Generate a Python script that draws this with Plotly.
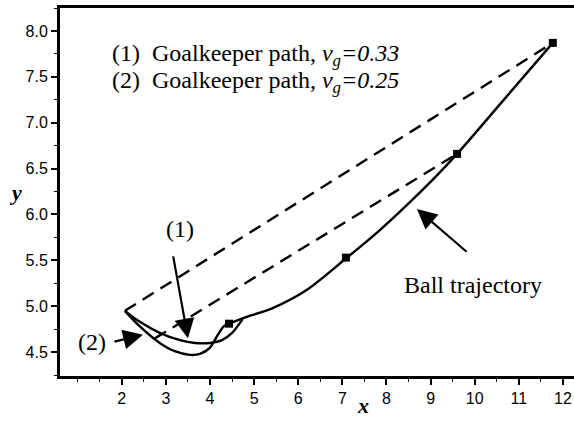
import plotly.graph_objects as go

# Goalkeeper path (1), v_g = 0.33
path1_x = [2.07, 2.41, 2.86, 3.32, 3.66, 4.00, 4.27, 4.50, 4.74]
path1_y = [4.95, 4.83, 4.71, 4.63, 4.60, 4.60, 4.63, 4.71, 4.86]
# Goalkeeper path (2), v_g = 0.25
path2_x = [2.07, 2.41, 2.86, 3.20, 3.54, 3.77, 4.00, 4.18, 4.31, 4.43]
path2_y = [4.95, 4.78, 4.60, 4.51, 4.47, 4.48, 4.55, 4.69, 4.78, 4.81]
# Ball trajectory
ball_x = [4.43, 4.75, 5.42, 6.20, 7.08, 7.85, 9.05, 9.60, 10.57, 11.77]
ball_y = [4.81, 4.87, 4.98, 5.18, 5.52, 5.83, 6.38, 6.66, 7.20, 7.87]
# Ball positions (markers)
mark_x = [4.43, 7.08, 9.60, 11.77]
mark_y = [4.81, 5.53, 6.66, 7.87]
# Dashed sight lines
dash1_x = [2.07, 11.77]
dash1_y = [4.95, 7.87]
dash2_x = [2.75, 9.60]
dash2_y = [4.65, 6.66]

x_ticks = [2, 3, 4, 5, 6, 7, 8, 9, 10, 11, 12]
y_ticks = [4.5, 5.0, 5.5, 6.0, 6.5, 7.0, 7.5, 8.0]

SERIF = "Liberation Serif, Times New Roman, serif"
SANS = "Liberation Sans, Arial, sans-serif"

fig = go.Figure()
solid = dict(color="black", width=2.4, shape="spline", smoothing=0.8)
dashed = dict(color="black", width=2.4, dash="13px,8px")
fig.add_trace(go.Scatter(x=dash1_x, y=dash1_y, mode="lines", line=dashed))
fig.add_trace(go.Scatter(x=dash2_x, y=dash2_y, mode="lines", line=dashed))
fig.add_trace(go.Scatter(x=path1_x, y=path1_y, mode="lines", line=solid))
fig.add_trace(go.Scatter(x=path2_x, y=path2_y, mode="lines", line=solid))
fig.add_trace(go.Scatter(x=ball_x, y=ball_y, mode="lines", line=solid))
fig.add_trace(go.Scatter(x=mark_x, y=mark_y, mode="markers",
                         marker=dict(symbol="square", size=8, color="black")))

ann_font = dict(family=SERIF, size=24, color="black")
arrow = dict(showarrow=True, arrowhead=2, arrowsize=1.8, arrowwidth=2.2,
             arrowcolor="black", axref="x", ayref="y", text="")
annotations = [
    dict(x=1.73, y=7.74, text="(1)  Goalkeeper path, <i>v</i><sub><i>g</i></sub><i>=0.33</i>",
         xanchor="left", yanchor="middle", showarrow=False, font=ann_font),
    dict(x=1.73, y=7.44, text="(2)  Goalkeeper path, <i>v</i><sub><i>g</i></sub><i>=0.25</i>",
         xanchor="left", yanchor="middle", showarrow=False, font=ann_font),
    dict(x=3.32, y=5.84, text="(1)", xanchor="center", yanchor="middle",
         showarrow=False, font=ann_font),
    dict(x=1.32, y=4.61, text="(2)", xanchor="center", yanchor="middle",
         showarrow=False, font=ann_font),
    dict(x=9.96, y=5.23, text="Ball trajectory", xanchor="center", yanchor="middle",
         showarrow=False, font=ann_font),
    dict(x=3.50, y=4.65, ax=3.16, ay=5.56, **arrow),
    dict(x=2.48, y=4.69, ax=1.80, ay=4.61, **arrow),
    dict(x=8.69, y=6.06, ax=9.85, ay=5.58, **arrow),
    dict(x=0.5895, y=-0.079, xref="paper", yref="paper", text="<b><i>x</i></b>",
         xanchor="center", yanchor="middle", showarrow=False,
         font=dict(family=SERIF, size=22, color="black")),
    dict(x=-0.086, y=0.5, xref="paper", yref="paper", text="<b><i>y</i></b>",
         xanchor="center", yanchor="middle", showarrow=False,
         font=dict(family=SERIF, size=22, color="black")),
]

fig.update_layout(
    width=574, height=425,
    margin=dict(l=60, r=0, t=8, b=49),
    paper_bgcolor="white", plot_bgcolor="white",
    showlegend=False,
    annotations=annotations,
    xaxis=dict(range=[0.6, 12.25], tickvals=x_ticks, ticks="outside", ticklen=6,
               tickwidth=1.5, tickcolor="black", showgrid=False, zeroline=False,
               showline=True, linecolor="black", linewidth=3, mirror=True,
               tickfont=dict(family=SANS, size=16, color="black"),
               minor=dict(dtick=0.5, tick0=0, ticks="outside", ticklen=3, tickwidth=1.2,
                          tickcolor="black", showgrid=False)),
    yaxis=dict(range=[4.24, 8.25], tickvals=y_ticks, tickformat=".1f", ticks="outside",
               ticklen=6, tickwidth=1.5, tickcolor="black", showgrid=False, zeroline=False,
               showline=True, linecolor="black", linewidth=3, mirror=False,
               tickfont=dict(family=SANS, size=16, color="black"),
               minor=dict(dtick=0.25, tick0=0, ticks="outside", ticklen=3, tickwidth=1.2,
                          tickcolor="black", showgrid=False)),
)

fig.write_html("out.html", config={"displayModeBar": False},
               post_script="document.body.style.margin='0';document.body.style.overflow='hidden';")
